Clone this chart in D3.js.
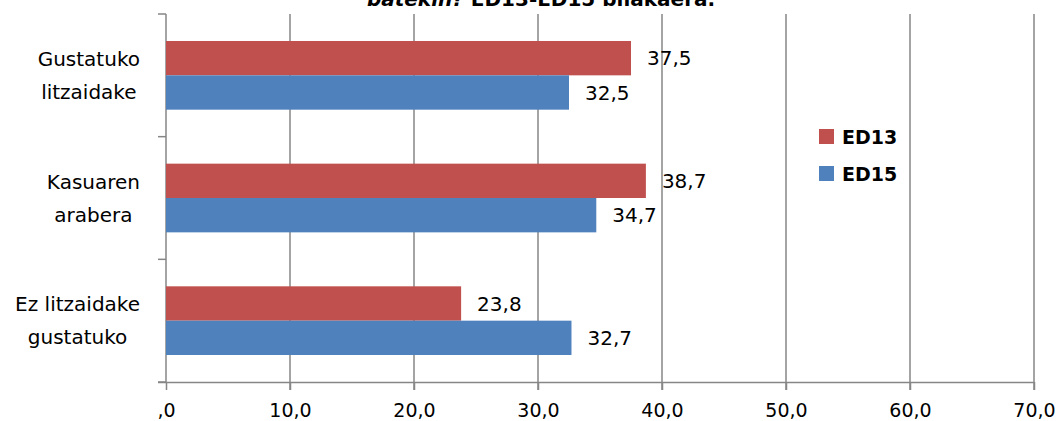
<!DOCTYPE html>
<html><head><meta charset="utf-8">
<script src="https://d3js.org/d3.v7.min.js"></script>
<style>body{margin:0;background:#fff}svg{display:block}text{font-family:"DejaVu Sans",sans-serif}</style>
</head><body>
<svg id="c" width="1057" height="421"></svg>
<script>
const categories = [["Gustatuko","litzaidake"],["Kasuaren","arabera"],["Ez litzaidake","gustatuko"]];
const seriesNames = ["ED13","ED15"];
const ED13 = [37.5, 38.7, 23.8];
const ED15 = [32.5, 34.7, 32.7];
const xTicks = [0,10,20,30,40,50,60,70];
const xTickLabels = [",0","10,0","20,0","30,0","40,0","50,0","60,0","70,0"];
const colors = ["#C0504D","#4F81BD"];

const svg = d3.select("#c");
const L = 166, R = 1034, T = 14, B = 382;
const x = d3.scaleLinear().domain([0,70]).range([L,R]);
const y = d3.scaleBand().domain(d3.range(categories.length)).range([T,B]).paddingInner(0).paddingOuter(0);
const sub = d3.scaleBand().domain(seriesNames).range([y.bandwidth()*0.22, y.bandwidth()*0.78]);

// gridlines
svg.append("g").selectAll("line").data(xTicks.slice(1)).join("line")
  .attr("x1",d=>x(d)).attr("x2",d=>x(d)).attr("y1",T).attr("y2",B+8)
  .attr("stroke","#868686").attr("stroke-width",1.5);

// x axis
const xa = svg.append("g").attr("transform",`translate(0,${B})`)
  .call(d3.axisBottom(x).tickValues(xTicks).tickSize(8).tickFormat((d,i)=>xTickLabels[i]));
xa.select(".domain").attr("stroke","#868686").attr("stroke-width",1.5).attr("d",`M${L-8},0.5H${R}`);
xa.selectAll(".tick line").attr("stroke","#868686").attr("stroke-width",1.5);
xa.selectAll(".tick text").attr("font-size",19).attr("font-family","DejaVu Sans").attr("fill","#000").attr("dy",0).attr("y",35);

// y axis
const ya = svg.append("g").attr("transform",`translate(${L},0)`);
ya.append("line").attr("x1",0).attr("x2",0).attr("y1",T).attr("y2",B).attr("stroke","#868686").attr("stroke-width",1.5);
ya.selectAll("line.t").data(d3.range(categories.length+1)).join("line").attr("class","t")
  .attr("x1",-8).attr("x2",0).attr("y1",d=>T+d*y.step()).attr("y2",d=>T+d*y.step())
  .attr("stroke","#868686").attr("stroke-width",1.5);

// bars
const series = [ED13, ED15];
const g = svg.append("g");
categories.forEach((c,i)=>{
  series.forEach((s,j)=>{
    const yy = y(i)+sub(seriesNames[j]);
    g.append("rect").attr("x",x(0)).attr("y",yy).attr("width",x(s[i])-x(0)).attr("height",sub.bandwidth())
      .attr("fill",colors[j]);
    g.append("text").attr("x",x(s[i])+16).attr("y",yy+sub.bandwidth()/2).attr("dy","0.36em")
      .attr("font-size",20).attr("fill","#000").text(String(s[i]).replace(".",","));
  });
  const cy = y(i)+y.bandwidth()/2;
  const t = svg.append("text").attr("font-size",20).attr("fill","#000").attr("text-anchor","middle");
  c.forEach((line,k)=>{
    t.append("tspan").attr("x",0).attr("y",cy+(k-0.5)*33+7).text(line);
  });
  const bb = t.node().getBBox();
  t.attr("transform",`translate(${140-bb.width/2},0)`);
});

// legend
const lg = svg.append("g");
seriesNames.forEach((n,j)=>{
  lg.append("rect").attr("x",819).attr("y",129+j*37).attr("width",15).attr("height",15).attr("fill",colors[j]);
  lg.append("text").attr("x",842).attr("y",144+j*37).attr("font-size",19).attr("font-weight","bold").attr("fill","#000").text(n);
});

// title (clipped at top)
const title = svg.append("text").attr("x",541).attr("y",6).attr("text-anchor","middle").attr("font-size",20).attr("font-weight","bold").attr("fill","#000");
title.append("tspan").attr("font-style","italic").text("batekin?");
title.append("tspan").text(" ED13-ED15 bilakaera.");
</script>
</body></html>
